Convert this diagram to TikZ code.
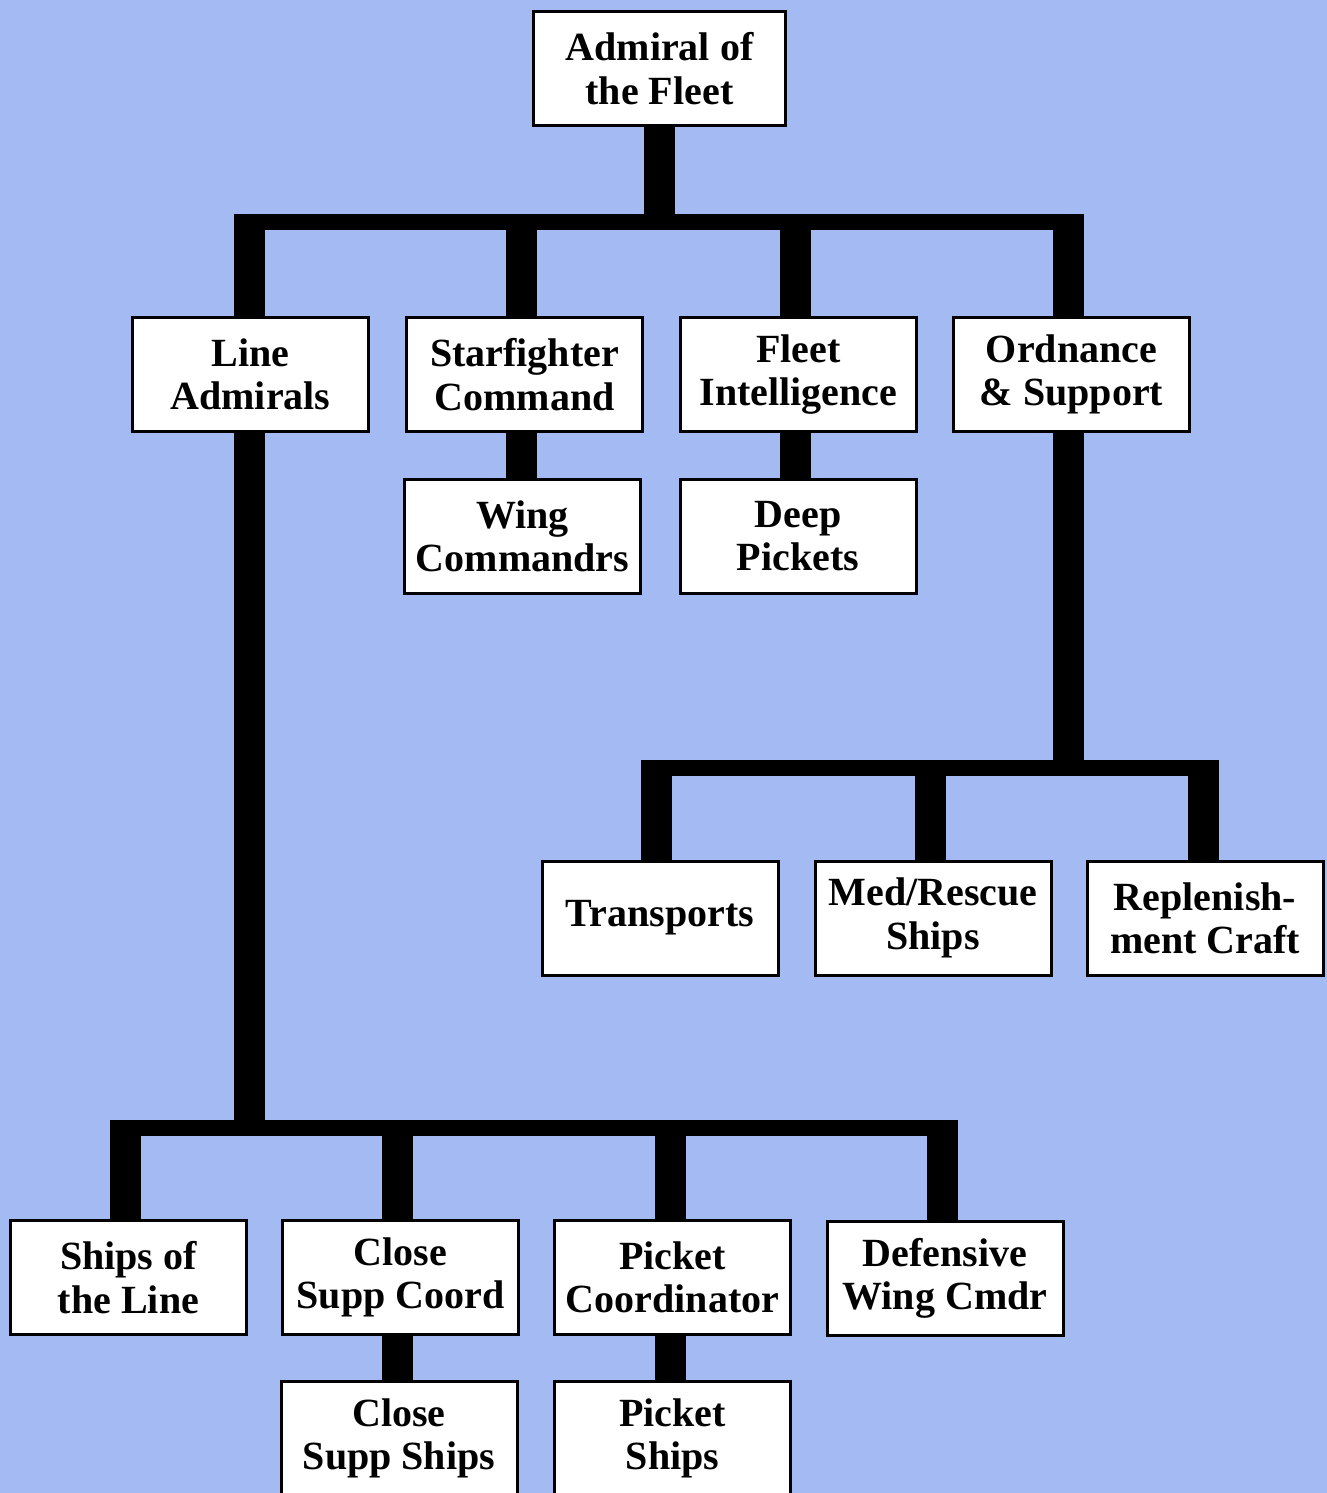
\documentclass[tikz,border=0pt]{standalone}
\usepackage{fontspec}
\setmainfont{Liberation Serif}
\definecolor{bgblue}{RGB}{164,186,242}
\def\u{0.75pt}
\tikzset{
  box/.style={draw=black, line width=3*\u, fill=white, rectangle, inner sep=0pt,
    minimum width=236*\u, minimum height=114*\u, align=center,
    font=\fontsize{30}{32.5}\selectfont\bfseries},
  wbox/.style={box, minimum width=252*\u},
  vstem/.style={line width=31*\u, line cap=butt, black},
  hbar/.style={line width=16*\u, line cap=butt, black}
}
\begin{document}
\begin{tikzpicture}[x=0.75pt, y=-0.75pt]
\fill[bgblue] (0,0) rectangle (1327,1493);
\useasboundingbox (0,0) rectangle (1327,1493);
\clip (0,0) rectangle (1327,1493);

% nodes
\node[wbox] (adm) at (659.5,68.5) {Admiral of\\the Fleet};
\node[box] (la) at (250.5,374.5) {Line\\Admirals};
\node[box] (sc) at (524.5,374.5) {Starfighter\\Command};
\node[box] (fi) at (798.5,374.5) {Fleet\\Intelligence};
\node[box] (os) at (1071.5,374.5) {Ordnance\\\& Support};
\node[box] (wc) at (522.5,536) {Wing\\Commandrs};
\node[box] (dp) at (798,536) {Deep\\Pickets};
\node[box] (tr) at (660,918) {Transports};
\node[box] (mr) at (933,918) {Med/Rescue\\Ships};
\node[box] (rc) at (1205,918.5) {Replenish-\\ment Craft};
\node[box] (sl) at (128.5,1277.5) {Ships of\\the Line};
\node[box] (csc) at (400.5,1277.5) {Close\\Supp Coord};
\node[box] (pc) at (672.5,1277.5) {Picket\\Coordinator};
\node[box] (dw) at (945,1278) {Defensive\\Wing Cmdr};
\node[box] (css) at (399,1438.5) {Close\\Supp Ships};
\node[box] (ps) at (672.5,1438.5) {Picket\\Ships};

% bar coordinates
\coordinate (b1) at (0,221.5);
\coordinate (b1t) at (0,214);
\coordinate (b2) at (0,767.5);
\coordinate (b2t) at (0,760);
\coordinate (b3) at (0,1128);
\coordinate (b3t) at (0,1120);

% top level
\draw[vstem] (adm.south) -- (adm.south |- b1);
\draw[hbar] ([xshift=-1*\u]la.north |- b1) -- ([xshift=-3*\u]os.north |- b1);
\draw[vstem] ([xshift=-1*\u]la.north) -- ([xshift=-1*\u]la.north |- b1t);
\draw[vstem] ([xshift=-3*\u]sc.north) -- ([xshift=-3*\u]sc.north |- b1t);
\draw[vstem] ([xshift=-3*\u]fi.north) -- ([xshift=-3*\u]fi.north |- b1t);
\draw[vstem] ([xshift=-3*\u]os.north) -- ([xshift=-3*\u]os.north |- b1t);

% second level singles
\draw[vstem] ([xshift=-3*\u]sc.south) -- ([xshift=-3*\u]sc.south |- wc.north);
\draw[vstem] ([xshift=-3*\u]fi.south) -- ([xshift=-3*\u]fi.south |- dp.north);

% ordnance subtree
\draw[vstem] ([xshift=-3*\u]os.south) -- ([xshift=-3*\u]os.south |- b2);
\draw[hbar] ([xshift=-4*\u]tr.north |- b2) -- ([xshift=-2*\u]rc.north |- b2);
\draw[vstem] ([xshift=-4*\u]tr.north) -- ([xshift=-4*\u]tr.north |- b2t);
\draw[vstem] ([xshift=-3*\u]mr.north) -- ([xshift=-3*\u]mr.north |- b2t);
\draw[vstem] ([xshift=-2*\u]rc.north) -- ([xshift=-2*\u]rc.north |- b2t);

% line admirals subtree
\draw[vstem] ([xshift=-1*\u]la.south) -- ([xshift=-1*\u]la.south |- b3);
\draw[hbar] ([xshift=-3*\u]sl.north |- b3) -- ([xshift=-3*\u]dw.north |- b3);
\draw[vstem] ([xshift=-3*\u]sl.north) -- ([xshift=-3*\u]sl.north |- b3t);
\draw[vstem] ([xshift=-3*\u]csc.north) -- ([xshift=-3*\u]csc.north |- b3t);
\draw[vstem] ([xshift=-2*\u]pc.north) -- ([xshift=-2*\u]pc.north |- b3t);
\draw[vstem] ([xshift=-3*\u]dw.north) -- ([xshift=-3*\u]dw.north |- b3t);

% third level singles
\draw[vstem] ([xshift=-3*\u]csc.south) -- ([xshift=-3*\u]csc.south |- css.north);
\draw[vstem] ([xshift=-2*\u]pc.south) -- ([xshift=-2*\u]pc.south |- ps.north);
\end{tikzpicture}
\end{document}
